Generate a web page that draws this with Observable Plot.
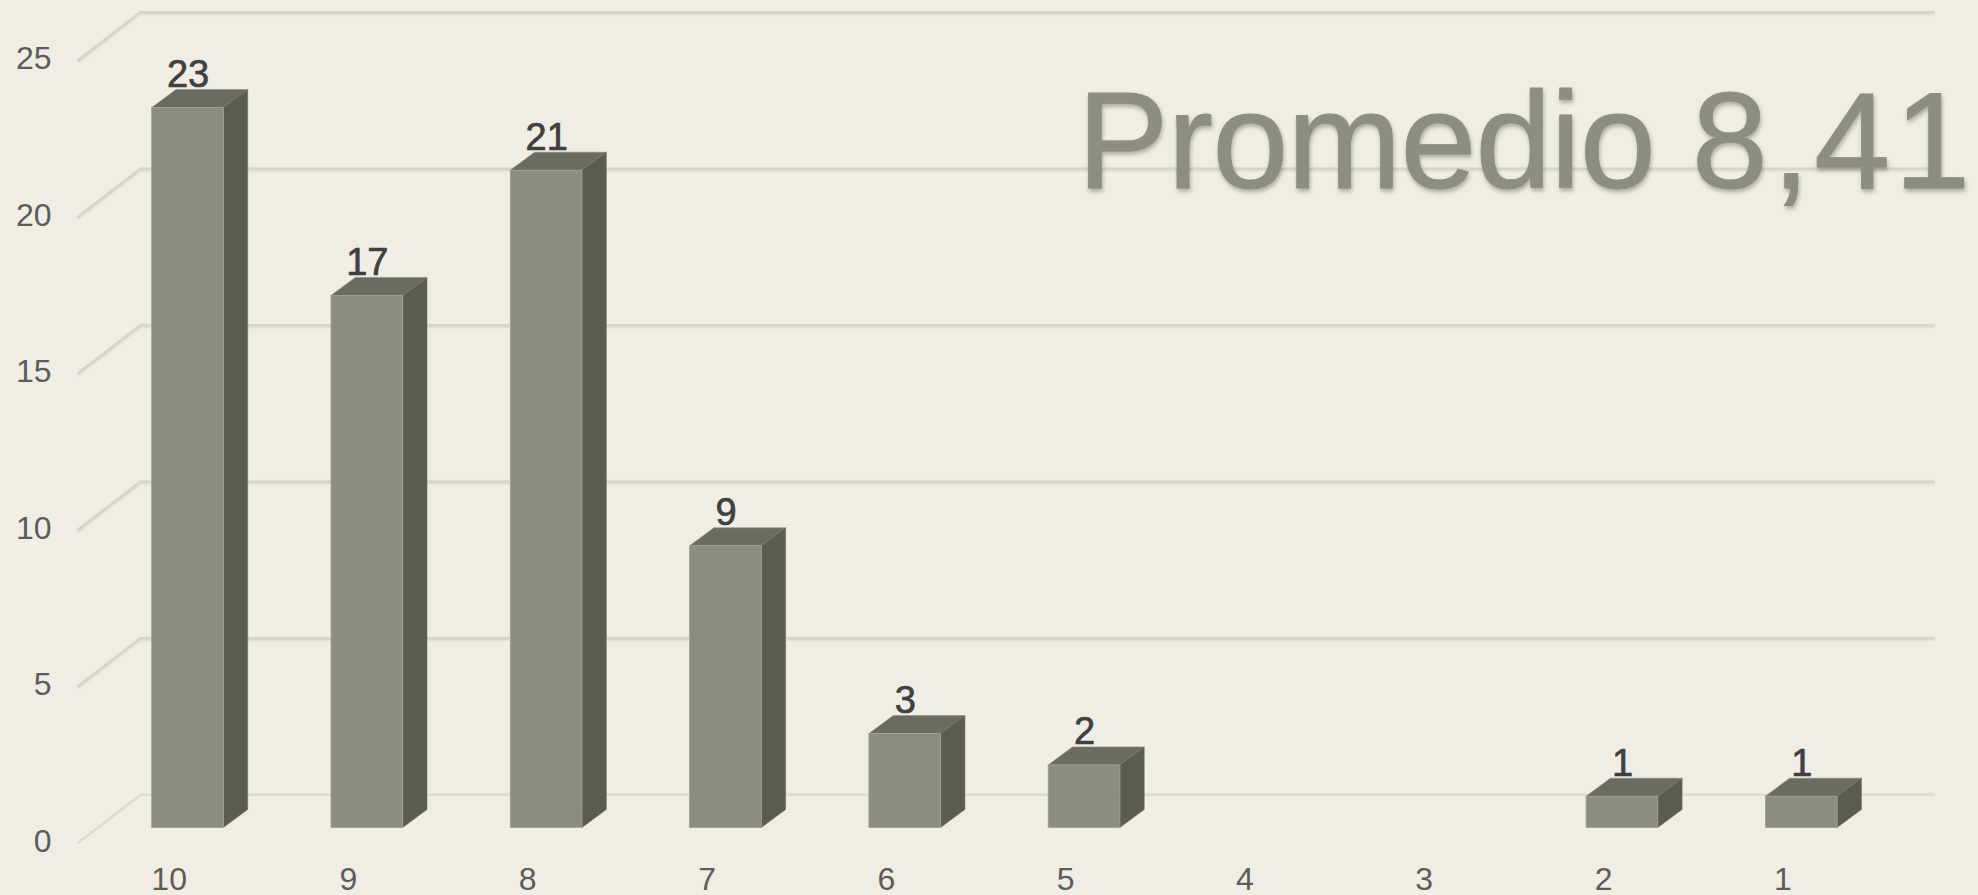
<!DOCTYPE html>
<html>
<head>
<meta charset="utf-8">
<script src="https://cdn.jsdelivr.net/npm/d3@7"></script>
<script src="https://cdn.jsdelivr.net/npm/@observablehq/plot@0.6"></script>
<style>
  html, body { margin: 0; padding: 0; background: #efede4; overflow: hidden; }
  svg { display: block; }
</style>
</head>
<body>
<div id="chart"></div>
<script>
const categories = ["10", "9", "8", "7", "6", "5", "4", "3", "2", "1"];
const counts = [23, 17, 21, 9, 3, 2, 0, 0, 1, 1];
const yTicks = [0, 5, 10, 15, 20, 25];
const titleWord = "Promedio";
const titleValue = "8,41";

// 3D projection, in data units
const wallX = 0.346, wallY = 1.524;   // floor depth
const barLeft = 0.411, barW = 0.4;    // bar within its category slot
const barBase = 0.463;                // bar stands mid-floor
const depthX = 0.1355, depthY = 0.575;

const bars = categories.map((c, i) => ({c, i, v: counts[i]})).filter(d => d.v > 0).map(d => ({
  ...d, left: d.i + barLeft, right: d.i + barLeft + barW, base: barBase, top: barBase + d.v
}));
const sideFaces = bars.flatMap(d => [
  {id: d.c, x: d.right, y1: d.base, y2: d.top},
  {id: d.c, x: d.right + depthX, y1: d.base + depthY, y2: d.top + depthY}
]);
const topFaces = bars.flatMap(d => [
  {id: d.c, y: d.top, x1: d.left, x2: d.right},
  {id: d.c, y: d.top + depthY, x1: d.left + depthX, x2: d.right + depthX}
]);
const gridPaths = yTicks.flatMap(v => [
  {v, x: 0, y: v},
  {v, x: wallX, y: v + wallY},
  {v, x: categories.length + wallX, y: v + wallY}
]);

const font = "'Liberation Sans', Arial, sans-serif";
const withFilter = f => (index, scales, values, dim, ctx, next) => {
  const g = next(index, scales, values, dim, ctx);
  g.style.filter = f;
  return g;
};

const chart = Plot.plot({
  width: 1978,
  height: 895,
  marginLeft: 78,
  marginRight: 107,
  marginTop: 59.5,
  marginBottom: 53,
  style: {background: "#efede4", fontFamily: font, overflow: "visible"},
  x: {type: "linear", domain: [0, categories.length]},
  y: {type: "linear", domain: [0, 25]},
  marks: [
    Plot.line(gridPaths.filter(d => d.v > 0), {x: "x", y: "y", z: "v", stroke: "#d5d4cd", strokeWidth: 2.6, curve: "linear",
      render: withFilter("drop-shadow(0px 1px 1px rgba(0,0,0,0.10))")}),
    Plot.line(gridPaths.filter(d => d.v === 0), {x: "x", y: "y", z: "v", stroke: "#dcdbd4", strokeWidth: 2.6, curve: "linear"}),
    Plot.axisY({ticks: yTicks, tickSize: 0, tickPadding: 27, fontSize: 32, fill: "#5c5c5c", label: null, tickFormat: d => String(d), dy: -1}),
    Plot.axisX({ticks: categories.map((c, i) => i + 0.5), tickSize: 0, tickPadding: 25, fontSize: 32, fill: "#5c5c5c", label: null,
      tickFormat: d => categories[Math.floor(d)], dx: 1}),
    Plot.text([titleWord + " " + titleValue], {text: d => d, frameAnchor: "top-right", textAnchor: "end", lineAnchor: "bottom", dx: 103, dy: 128, fontSize: 137, fill: "#8c8d85", stroke: "#8c8d85", strokeWidth: 0.8, fontFamily: font,
      render: (index, scales, values, dim, ctx, next) => {
        const g = next(index, scales, values, dim, ctx);
        g.style.filter = "drop-shadow(1px 3px 2px rgba(0,0,0,0.28))";
        const t = g.querySelector("text");
        t.textContent = "";
        const ns = "http://www.w3.org/2000/svg";
        const a = document.createElementNS(ns, "tspan");
        a.setAttribute("letter-spacing", "-1.1");
        a.textContent = titleWord + " ";
        const b = document.createElementNS(ns, "tspan");
        b.setAttribute("letter-spacing", "4");
        b.textContent = titleValue;
        t.append(a, b);
        return g;
      }}),
    Plot.areaX(topFaces, {y: "y", x1: "x1", x2: "x2", z: "id", fill: "#6a6c64", stroke: "#8c8d85", strokeWidth: 0.6, curve: "linear"}),
    Plot.areaY(sideFaces, {x: "x", y1: "y1", y2: "y2", z: "id", fill: "#5a5c54", stroke: "#6f7068", strokeWidth: 0.6, curve: "linear"}),
    Plot.rect(bars, {x1: "left", x2: "right", y1: "base", y2: "top", fill: "#8b8c83", stroke: "#a0a197", strokeWidth: 0.8}),
    Plot.text(bars, {x: d => d.left + barW / 2, y: d => d.top + depthY, text: d => String(d.v), lineAnchor: "bottom", dy: -3, fontSize: 38, fill: "#404040", stroke: "#404040", strokeWidth: 0.7, fontFamily: font})
  ]
});
document.getElementById("chart").appendChild(chart);
</script>
</body>
</html>
